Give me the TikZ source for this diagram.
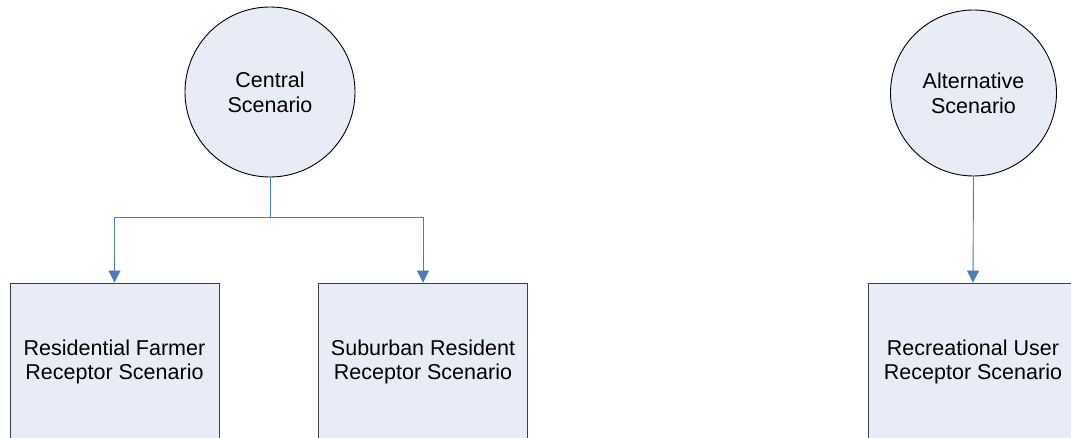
\documentclass[tikz,border=0pt]{standalone}
\usepackage{fontspec}
\setmainfont{Liberation Sans}
\usetikzlibrary{arrows.meta}
\definecolor{shapefill}{HTML}{E7ECF6}
\definecolor{linkblue}{HTML}{4A7EBB}
\tikzset{
  scen/.style={circle, draw=black, line width=0.9pt, fill=shapefill,
    align=center, inner sep=0pt, font=\fontsize{21.5}{24.7}\selectfont},
  recep/.style={rectangle, draw=black!75, line width=0.9pt, fill=shapefill,
    align=center, minimum width=209pt, minimum height=158pt,
    font=\fontsize{21.5}{24.7}\selectfont},
  link/.style={draw=linkblue, line width=0.9pt,
    -{Triangle[width=12pt,length=12pt]}},
}
\begin{document}
\begin{tikzpicture}[x=1pt,y=-1pt]
  \useasboundingbox (0,0) rectangle (1071,438);
  \clip (0,0) rectangle (1071,438);
  \fill[white] (0,0) rectangle (1071,438);

  % scenario circles
  \node[scen, minimum size=170pt] (central) at (270,92) {Central\\Scenario};
  \node[scen, minimum size=166pt] (altern) at (973.5,93) {Alternative\\Scenario};

  % receptor boxes
  \node[recep] (farmer)   at (114.5,362) {Residential Farmer\\Receptor Scenario};
  \node[recep] (suburban) at (423,362)   {Suburban Resident\\Receptor Scenario};
  \node[recep] (recuser)  at (973,362)   {Recreational User\\Receptor Scenario};

  % branching connectors
  \coordinate (split) at (270,217);
  \draw[draw=linkblue, line width=0.9pt] (central.south) -- (split);
  \draw[link] (split) -| (farmer.north);
  \draw[link] (split) -| (suburban.north);
  \draw[link] (altern.south) -- (recuser.north);
\end{tikzpicture}
\end{document}
